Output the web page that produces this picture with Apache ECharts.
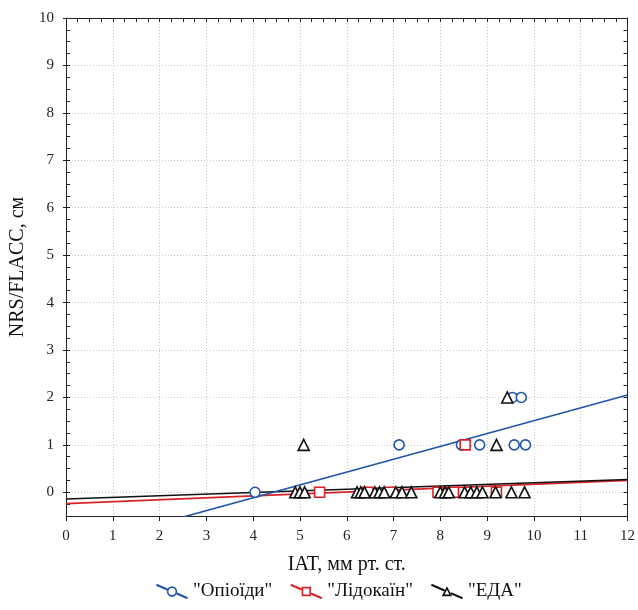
<!DOCTYPE html>
<html>
<head>
<meta charset="utf-8">
<script src="https://cdn.jsdelivr.net/npm/echarts@6/dist/echarts.min.js"></script>
<style>
  html, body { margin: 0; padding: 0; background: #fff; }
  #chart { width: 638px; height: 610px; }
</style>
</head>
<body>
<div id="chart"></div>
<script>
const seriesNames = ['"Опіоїди"', '"Лідокаїн"', '"ЕДА"']

// points: IAT (x) and NRS/FLACC (y)
const opioidX = [4.04, 7.12, 8.45, 8.84, 9.58, 9.82, 9.54, 9.73]
const opioidY = [0, 1, 1, 1, 1, 1, 2, 2]
const lidocaineX = [5.42, 6.45, 6.92, 7.95, 8.28, 9.2, 8.53]
const lidocaineY = [0, 0, 0, 0, 0, 0, 1]
const edaX = [4.9, 5.0, 5.1, 6.22, 6.3, 6.38, 6.6, 6.7, 6.8, 7.05, 7.18, 7.38, 8.0, 8.1, 8.18, 8.52, 8.65, 8.78, 8.9, 9.18, 9.52, 9.8, 5.08, 9.2, 9.43]
const edaY = [0, 0, 0, 0, 0, 0, 0, 0, 0, 0, 0, 0, 0, 0, 0, 0, 0, 0, 0, 0, 0, 0, 1, 1, 2]

// linear fits (intercept, slope) as drawn in the picture
const fitIntercept = [-1.2, -0.24, -0.14]
const fitSlope = [0.271, 0.041, 0.034]

const xRange = [0, 12]
const yRange = [-0.5, 10]
const yLabels = [0, 1, 2, 3, 4, 5, 6, 7, 8, 9, 10]

const colors = ['#2155ad', '#d8232a', '#111111']
const symbols = ['circle', 'rect', 'triangle']
const font = '"Liberation Serif", "DejaVu Serif", serif'

const pairs = (xs, ys) => xs.map((x, i) => [x, ys[i]])
const pointSets = [pairs(opioidX, opioidY), pairs(lidocaineX, lidocaineY), pairs(edaX, edaY)]

// legend icons: slanted line with a hollow marker in the middle
const f = (n) => n.toFixed(2)
const seg = (x1, y1, x2, y2, w) => {
  const dx = x2 - x1, dy = y2 - y1, L = Math.hypot(dx, dy)
  const nx = -dy / L * w / 2, ny = dx / L * w / 2
  return `M${f(x1 + nx)},${f(y1 + ny)}L${f(x2 + nx)},${f(y2 + ny)}L${f(x2 - nx)},${f(y2 - ny)}L${f(x1 - nx)},${f(y1 - ny)}Z`
}
const lineY = (x) => 2 + 13 * x / 30
const icons = [
  'path://' + seg(0, 2, 10.4, lineY(10.4), 2) + seg(19.6, lineY(19.6), 30, 15, 2) +
    'M20,8.5A5,5 0 1,1 10,8.5A5,5 0 1,1 20,8.5ZM18.4,8.5A3.4,3.4 0 1,0 11.6,8.5A3.4,3.4 0 1,0 18.4,8.5Z',
  'path://' + seg(0, 2, 10.5, lineY(10.5), 2) + seg(19.5, lineY(19.5), 30, 15, 2) +
    'M10.5,4L19.5,4L19.5,13L10.5,13ZM12.1,5.6L12.1,11.4L17.9,11.4L17.9,5.6Z',
  'path://' + seg(0, 2, 12.6, lineY(12.6), 2) + seg(18.6, lineY(18.6), 30, 15, 2) +
    'M15,3.5L20,13L10,13ZM15,6.7L12.7,11.5L17.3,11.5Z',
]

const chart = echarts.init(document.getElementById('chart'))

const scatterSeries = pointSets.map((pts, i) => ({
  name: seriesNames[i],
  type: 'scatter',
  xAxisIndex: 0,
  yAxisIndex: 0,
  data: pts,
  symbol: symbols[i],
  symbolSize: i === 2 ? 11 : 10,
  itemStyle: { color: '#fff', borderColor: colors[i], borderWidth: 1.6, opacity: 1 },
  z: 4 + i,
}))

const fitSeries = fitIntercept.map((a, i) => ({
  name: seriesNames[i],
  type: 'line',
  xAxisIndex: 0,
  yAxisIndex: 0,
  data: xRange.map((x) => [x, a + fitSlope[i] * x]),
  symbol: 'none',
  clip: true,
  lineStyle: { color: colors[i], width: 1.6 },
  z: i === 0 ? 3 : 2,
}))

const gridLine = { show: true, lineStyle: { color: '#c9c9c9', type: [1, 2], width: 1 } }
const axisLine = { show: true, onZero: false, lineStyle: { color: '#222', width: 1 } }

chart.setOption({
  animation: false,
  grid: { left: 66, right: 9, top: 18, bottom: 94 },
  legend: {
    bottom: 4,
    left: 151,
    itemWidth: 32,
    itemHeight: 16,
    itemGap: 18,
    textStyle: { fontFamily: font, fontSize: 19, color: '#111' },
    data: seriesNames.map((n, i) => ({
      name: n,
      icon: icons[i],
      itemStyle: { color: colors[i], borderWidth: 0 },
    })),
  },
  xAxis: [
    {
      type: 'value', position: 'bottom', min: xRange[0], max: xRange[1], interval: 1,
      name: 'IAT, мм рт. ст.', nameLocation: 'middle', nameGap: 39,
      nameTextStyle: { fontFamily: font, fontSize: 20, color: '#111' },
      axisLine,
      axisTick: { show: true, inside: false, length: 5, lineStyle: { color: '#222' } },
      axisLabel: { fontFamily: font, fontSize: 15, color: '#222', margin: 13 },
      splitLine: gridLine,
    },
    {
      type: 'value', position: 'top', min: xRange[0], max: xRange[1], interval: 1,
      axisLine,
      axisTick: { show: true, inside: true, length: 4, lineStyle: { color: '#222' } },
      minorTick: { show: true, splitNumber: 4, length: 4, lineStyle: { color: '#222' } },
      axisLabel: { show: false },
      splitLine: { show: false },
    },
  ],
  yAxis: [
    {
      type: 'value', position: 'left', min: yRange[0], max: yRange[1],
      name: 'NRS/FLACC, см', nameLocation: 'middle', nameGap: 37,
      nameTextStyle: { fontFamily: font, fontSize: 20, color: '#111' },
      axisLine,
      axisTick: { show: true, inside: false, length: 3, customValues: yLabels, lineStyle: { color: '#222' } },
      axisLabel: { fontFamily: font, fontSize: 15, color: '#222', margin: 12, customValues: yLabels },
      splitLine: gridLine,
    },
    {
      type: 'value', position: 'left', min: yRange[0], max: yRange[1], interval: 0.25,
      axisLine: { show: false },
      axisTick: { show: true, inside: true, length: 4, lineStyle: { color: '#222' } },
      axisLabel: { show: false },
      splitLine: { show: false },
    },
    {
      type: 'value', position: 'right', min: yRange[0], max: yRange[1], interval: 0.25,
      axisLine,
      axisTick: { show: true, inside: true, length: 4, lineStyle: { color: '#222' } },
      axisLabel: { show: false },
      splitLine: { show: false },
    },
  ],
  series: [...fitSeries, ...scatterSeries],
})
</script>
</body>
</html>
